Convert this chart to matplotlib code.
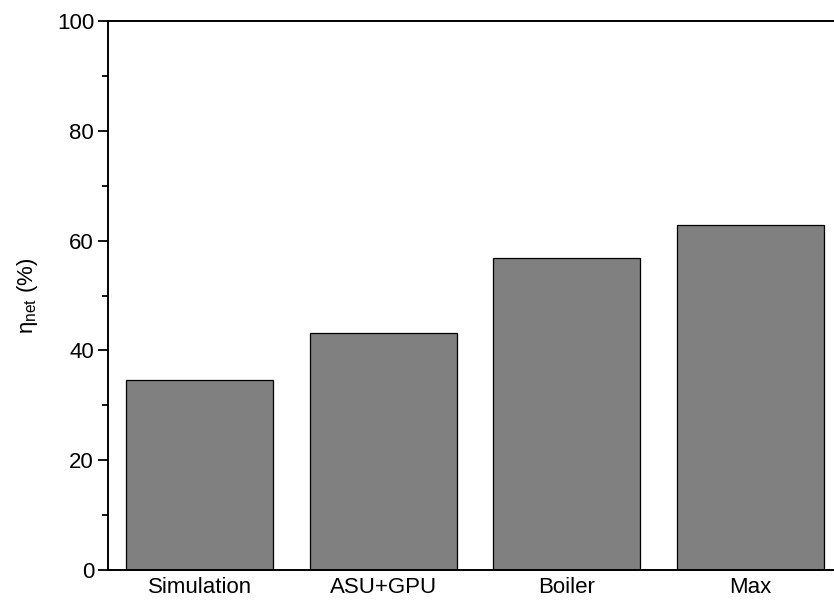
import numpy as np
import matplotlib
matplotlib.use("Agg")
import matplotlib.pyplot as plt
from matplotlib.ticker import MultipleLocator

plt.rcParams['font.family'] = ['Liberation Sans', 'DejaVu Sans']
plt.rcParams['mathtext.fontset'] = 'custom'
plt.rcParams['mathtext.rm'] = 'Liberation Sans'
plt.rcParams['mathtext.it'] = 'Liberation Sans'

categories = ['Simulation', 'ASU+GPU', 'Boiler', 'Max']
eta_net = [34.6, 43.2, 56.8, 62.8]

fig = plt.figure(figsize=(8.34, 6.02), dpi=100)
ax = fig.add_axes([108 / 834, 32 / 602, 734 / 834, 549 / 602])

x = np.arange(len(categories))
ax.bar(x, eta_net, width=0.8, color='#808080', edgecolor='black', linewidth=0.9)

ax.set_xlim(-0.5, 3.5)
ax.set_ylim(0, 100)
ax.set_xticks(x)
ax.set_xticklabels(categories)
ax.yaxis.set_major_locator(MultipleLocator(20))
ax.yaxis.set_minor_locator(MultipleLocator(10))
ax.tick_params(axis='x', length=0, labelsize=16, pad=5)
ax.tick_params(axis='y', which='major', direction='out', length=7, width=1.3, labelsize=16, pad=3)
ax.tick_params(axis='y', which='minor', direction='out', length=4, width=1.3)
for sp in ax.spines.values():
    sp.set_linewidth(1.4)

ax.set_ylabel(r'$\mathregular{\eta_{net}}$ (%)', fontsize=16, labelpad=12)

fig.savefig('out.png', dpi=100)
